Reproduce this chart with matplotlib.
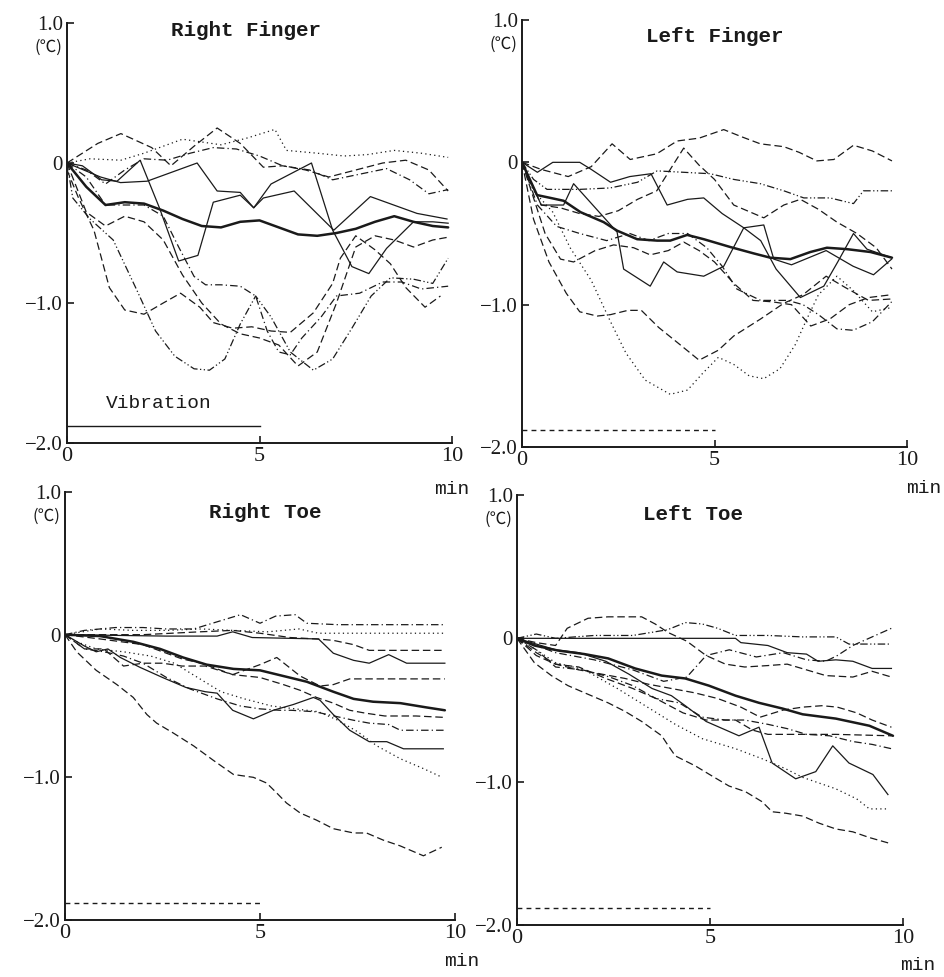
import matplotlib
matplotlib.use("Agg")
import matplotlib.pyplot as plt

# ---------------- DATA (minutes, °C change) ----------------
# Right Finger
rf_mean_x = [0, 0.5, 1.0, 1.5, 2.0, 2.5, 3.0, 3.5, 4.0, 4.5, 5.0, 5.5, 6.0, 6.5, 7.0, 7.5, 8.0, 8.5, 9.0, 9.5, 9.9]
rf_mean_y = [0, -0.17, -0.30, -0.28, -0.29, -0.34, -0.40, -0.45, -0.46, -0.42, -0.41, -0.46, -0.51, -0.52, -0.50, -0.47, -0.42, -0.38, -0.42, -0.45, -0.46]
rf_s1_x = [0, 0.4, 0.9, 1.3, 1.9, 2.4, 2.9, 3.4, 3.8, 4.5, 4.85, 5.3, 6.35, 6.9, 7.4, 7.84, 8.3, 9.0, 9.5, 9.9]
rf_s1_y = [0, -0.02, -0.12, -0.13, 0.02, -0.32, -0.70, -0.66, -0.28, -0.23, -0.32, -0.15, 0.0, -0.48, -0.74, -0.79, -0.61, -0.42, -0.42, -0.43]
rf_s2_x = [0, 0.87, 1.39, 2.08, 3.38, 3.9, 4.5, 4.85, 5.1, 5.9, 6.93, 7.88, 9.09, 9.87]
rf_s2_y = [0, -0.10, -0.14, -0.13, 0.0, -0.20, -0.21, -0.32, -0.25, -0.20, -0.48, -0.24, -0.36, -0.40]
rf_d1_x = [0, 0.8, 1.4, 2.2, 2.7, 3.3, 3.9, 4.5, 5.1, 5.6, 6.2, 6.8, 7.5, 8.2, 8.8, 9.4, 9.9]
rf_d1_y = [0, 0.14, 0.21, 0.11, -0.02, 0.12, 0.25, 0.14, -0.03, -0.02, -0.05, -0.10, -0.05, 0.0, 0.02, -0.05, -0.20]
rf_dot1_x = [0, 0.6, 1.4, 2.0, 2.5, 3.0, 3.5, 4.0, 4.7, 5.4, 5.7, 6.5, 7.2, 7.8, 8.5, 9.2, 9.9]
rf_dot1_y = [0, 0.03, 0.02, 0.07, 0.12, 0.17, 0.15, 0.13, 0.18, 0.24, 0.09, 0.07, 0.05, 0.06, 0.09, 0.07, 0.04]
rf_dd1_x = [0, 0.5, 1.0, 1.5, 2.0, 2.6, 3.2, 3.8, 4.4, 5.0, 5.6, 6.3, 6.9, 7.6, 8.3, 8.9, 9.4, 9.9]
rf_dd1_y = [0, -0.05, -0.15, -0.05, 0.03, 0.02, 0.07, 0.11, 0.10, 0.05, -0.02, -0.05, -0.12, -0.08, -0.04, -0.12, -0.22, -0.19]
rf_dot2_x = [0, 0.15, 0.6, 1.2, 1.8, 2.3, 2.8, 3.3, 3.7, 4.1, 4.5, 4.9, 5.3, 5.8, 6.4, 6.9, 7.4, 7.9, 8.4, 9.0, 9.5, 9.9]
rf_dot2_y = [0, -0.25, -0.40, -0.55, -0.90, -1.20, -1.38, -1.47, -1.48, -1.40, -1.15, -0.95, -1.10, -1.35, -1.48, -1.40, -1.18, -0.95, -0.82, -0.83, -0.86, -0.68]
rf_da2_x = [0, 0.3, 0.7, 1.1, 1.5, 2.0, 2.5, 2.95, 3.45, 3.8, 4.3, 4.8, 5.3, 5.8, 6.4, 6.9, 7.1, 7.5, 8.0, 8.4, 8.8, 9.3, 9.7]
rf_da2_y = [-0.05, -0.25, -0.48, -0.89, -1.05, -1.08, -1.00, -0.93, -1.03, -1.14, -1.18, -1.17, -1.20, -1.21, -1.07, -0.86, -0.68, -0.52, -0.62, -0.72, -0.89, -1.03, -0.95]
rf_da3_x = [0, 0.5, 1.0, 1.5, 2.0, 2.5, 2.9, 3.3, 3.6, 4.0, 4.5, 4.9, 5.2, 5.5, 5.8, 6.1, 6.6, 7.0, 7.6, 8.2, 8.7, 9.2, 9.9]
rf_da3_y = [0, -0.10, -0.30, -0.30, -0.30, -0.38, -0.60, -0.81, -0.87, -0.87, -0.88, -0.95, -1.20, -1.35, -1.37, -1.25, -1.10, -0.95, -0.93, -0.85, -0.85, -0.90, -0.88]
rf_dd2_x = [0, 0.5, 1.0, 1.5, 2.0, 2.5, 3.0, 3.5, 4.0, 4.5, 5.0, 5.5, 6.0, 6.5, 7.0, 7.5, 8.0, 8.5, 9.0, 9.5, 9.9]
rf_dd2_y = [0, -0.35, -0.45, -0.38, -0.42, -0.55, -0.80, -1.00, -1.15, -1.22, -1.25, -1.30, -1.45, -1.35, -1.00, -0.60, -0.52, -0.55, -0.60, -0.55, -0.53]

# Left Finger
lf_mean_x = [0, 0.39, 0.74, 1.08, 1.52, 2.12, 2.47, 2.99, 3.51, 3.85, 4.29, 4.72, 5.41, 6.02, 6.45, 6.97, 7.49, 7.92, 8.44, 9.05, 9.61]
lf_mean_y = [0, -0.23, -0.25, -0.27, -0.35, -0.42, -0.48, -0.54, -0.55, -0.55, -0.51, -0.54, -0.595, -0.64, -0.67, -0.68, -0.63, -0.60, -0.61, -0.63, -0.67]
lf_d1_x = [0, 0.5, 1.2, 1.8, 2.34, 2.81, 3.5, 4.03, 4.6, 5.24, 5.7, 6.19, 6.8, 7.2, 7.66, 8.1, 8.61, 9.1, 9.61]
lf_d1_y = [0, -0.05, -0.10, -0.03, 0.13, 0.02, 0.06, 0.15, 0.17, 0.23, 0.18, 0.13, 0.11, 0.07, 0.01, 0.02, 0.12, 0.08, 0.01]
lf_s1_x = [0, 0.4, 0.8, 1.5, 1.8, 2.3, 2.8, 3.35, 3.77, 4.3, 4.72, 5.2, 5.76, 6.2, 6.6, 7.23, 7.84, 8.2, 8.61, 8.96, 9.6]
lf_s1_y = [0, -0.07, 0.0, 0.0, -0.05, -0.14, -0.10, -0.08, -0.30, -0.26, -0.25, -0.36, -0.46, -0.55, -0.75, -0.95, -0.87, -0.70, -0.50, -0.61, -0.67]
lf_s2_x = [0, 0.5, 1.08, 1.34, 2.47, 2.64, 3.33, 3.68, 4.03, 4.72, 5.24, 5.76, 6.28, 6.54, 7.0, 7.9, 8.6, 9.13, 9.6]
lf_s2_y = [0, -0.30, -0.30, -0.15, -0.49, -0.75, -0.87, -0.70, -0.77, -0.80, -0.73, -0.46, -0.44, -0.68, -0.72, -0.62, -0.73, -0.79, -0.68]
lf_dot1_x = [0, 0.3, 0.65, 1.5, 2.29, 3.0, 3.51, 4.2, 4.89, 5.5, 6.19, 6.8, 7.32, 8.0, 8.61, 8.87, 9.2, 9.61]
lf_dot1_y = [0, -0.12, -0.19, -0.19, -0.18, -0.14, -0.06, -0.07, -0.08, -0.12, -0.15, -0.20, -0.25, -0.25, -0.29, -0.20, -0.20, -0.20]
lf_dot2_x = [0, 0.3, 0.8, 1.25, 1.8, 2.3, 2.7, 3.2, 3.85, 4.3, 4.7, 5.1, 5.5, 5.9, 6.28, 6.7, 7.1, 7.4, 7.7, 8.18, 8.6, 9.1, 9.6]
lf_dot2_y = [0, -0.20, -0.35, -0.60, -0.83, -1.12, -1.34, -1.53, -1.63, -1.60, -1.48, -1.37, -1.42, -1.50, -1.52, -1.45, -1.28, -1.10, -0.93, -0.80, -0.90, -1.05, -1.02]
lf_da1_x = [0, 0.3, 0.6, 1.0, 1.34, 1.9, 2.38, 2.9, 3.33, 3.8, 4.2, 4.6, 5.0, 5.5, 6.0, 6.5, 7.0, 7.5, 8.0, 8.5, 9.0, 9.6]
lf_da1_y = [0, -0.25, -0.50, -0.68, -0.70, -0.62, -0.58, -0.60, -0.65, -0.62, -0.56, -0.62, -0.70, -0.85, -0.97, -0.98, -1.00, -1.15, -1.10, -1.00, -0.95, -0.93]
lf_da2_x = [0, 0.3, 0.7, 1.15, 1.5, 1.95, 2.3, 2.75, 3.1, 3.55, 4.1, 4.6, 5.1, 5.5, 6.2, 6.8, 7.3, 7.9, 8.4, 9.0, 9.6]
lf_da2_y = [0, -0.40, -0.70, -0.92, -1.05, -1.08, -1.07, -1.04, -1.04, -1.16, -1.28, -1.39, -1.32, -1.22, -1.10, -0.99, -0.93, -0.80, -0.88, -0.97, -0.96]
lf_da3_x = [0, 0.5, 1.0, 1.5, 2.0, 2.5, 3.0, 3.5, 4.2, 4.6, 5.0, 5.5, 6.28, 6.8, 7.23, 7.7, 8.18, 8.7, 9.2, 9.61]
lf_da3_y = [0, -0.30, -0.32, -0.36, -0.38, -0.34, -0.26, -0.20, 0.10, -0.02, -0.12, -0.30, -0.39, -0.30, -0.26, -0.33, -0.42, -0.50, -0.60, -0.75]
lf_da4_x = [0, 0.4, 0.9, 1.5, 2.2, 2.8, 3.3, 3.8, 4.3, 4.8, 5.2, 5.58, 6.2, 6.9, 7.3, 7.7, 8.18, 8.6, 9.1, 9.6]
lf_da4_y = [0, -0.30, -0.45, -0.50, -0.55, -0.50, -0.55, -0.50, -0.50, -0.60, -0.73, -0.89, -0.97, -0.97, -1.00, -1.07, -1.17, -1.18, -1.12, -0.98]

# Right Toe
rt_mean_x = [0, 0.9, 1.75, 2.44, 3.03, 3.63, 4.32, 5.0, 5.6, 6.2, 6.88, 7.4, 7.9, 8.6, 9.27, 9.74]
rt_mean_y = [0, -0.01, -0.05, -0.10, -0.16, -0.21, -0.24, -0.25, -0.29, -0.33, -0.40, -0.45, -0.47, -0.48, -0.51, -0.53]
rt_t1_x = [0, 0.5, 1.3, 2.0, 2.6, 3.3, 3.9, 4.5, 5.0, 5.4, 5.9, 6.2, 7.0, 8.0, 9.0, 9.74]
rt_t1_y = [0, 0.03, 0.05, 0.05, 0.04, 0.04, 0.09, 0.14, 0.08, 0.13, 0.14, 0.08, 0.07, 0.07, 0.07, 0.07]
rt_t2_x = [0, 0.9, 1.75, 2.6, 3.5, 4.3, 5.2, 6.0, 6.5, 7.7, 9.74]
rt_t2_y = [0, 0.04, 0.03, 0.03, 0.04, 0.03, 0.02, 0.04, 0.01, 0.01, 0.01]
rt_t3_x = [0, 1.0, 2.0, 3.46, 4.3, 5.0, 5.77, 6.45, 6.88, 7.4, 7.8, 9.74]
rt_t3_y = [0, 0.0, 0.0, 0.02, 0.03, 0.01, -0.02, -0.03, -0.04, -0.07, -0.11, -0.11]
rt_t4_x = [0, 2.6, 3.9, 4.3, 4.8, 6.5, 6.88, 7.4, 7.8, 8.3, 8.76, 9.74]
rt_t4_y = [0, -0.01, -0.01, 0.02, -0.02, -0.03, -0.13, -0.18, -0.20, -0.14, -0.20, -0.20]
rt_t5_x = [0, 0.5, 1.0, 1.5, 2.0, 2.5, 3.0, 3.6, 4.3, 5.0, 5.43, 6.03, 6.54, 6.88, 7.3, 8.0, 9.0, 9.74]
rt_t5_y = [0, -0.10, -0.10, -0.22, -0.20, -0.20, -0.22, -0.22, -0.28, -0.21, -0.16, -0.29, -0.36, -0.35, -0.31, -0.31, -0.31, -0.31]
rt_t6_x = [0, 0.9, 2.0, 2.5, 3.0, 3.5, 4.3, 5.0, 5.6, 6.03, 6.45, 6.88, 7.3, 7.7, 8.2, 9.0, 9.74]
rt_t6_y = [0, -0.03, -0.07, -0.12, -0.17, -0.20, -0.28, -0.30, -0.35, -0.39, -0.44, -0.48, -0.53, -0.55, -0.57, -0.57, -0.58]
rt_t7_x = [0, 0.5, 1.0, 1.5, 2.0, 2.6, 3.2, 3.9, 4.5, 5.0, 5.5, 5.8, 6.4, 6.9, 7.4, 7.8, 8.3, 8.6, 9.74]
rt_t7_y = [0, -0.10, -0.12, -0.15, -0.20, -0.30, -0.38, -0.45, -0.50, -0.52, -0.53, -0.53, -0.54, -0.57, -0.60, -0.62, -0.63, -0.67, -0.67]
rt_t8_x = [0, 0.5, 0.8, 1.1, 1.42, 1.93, 2.5, 3.1, 3.6, 3.9, 4.3, 4.83, 5.34, 5.85, 6.37, 6.54, 6.88, 7.3, 7.8, 8.25, 8.68, 9.7]
rt_t8_y = [0, -0.08, -0.12, -0.10, -0.16, -0.23, -0.30, -0.37, -0.40, -0.41, -0.53, -0.59, -0.53, -0.49, -0.44, -0.46, -0.56, -0.67, -0.75, -0.75, -0.80, -0.80]
rt_t9_x = [0, 0.3, 0.8, 1.5, 2.2, 2.8, 3.4, 4.0, 4.6, 5.3, 5.9, 6.5, 7.0, 7.5, 8.0, 8.6, 9.2, 9.67]
rt_t9_y = [0, -0.05, -0.10, -0.12, -0.15, -0.20, -0.30, -0.40, -0.45, -0.50, -0.52, -0.54, -0.60, -0.68, -0.78, -0.87, -0.94, -1.00]
rt_t10_x = [0, 0.3, 0.8, 1.33, 1.75, 2.1, 2.35, 2.78, 3.3, 3.8, 4.32, 4.83, 5.17, 5.43, 5.68, 6.03, 6.45, 6.88, 7.4, 7.73, 8.16, 8.59, 9.19, 9.66]
rt_t10_y = [0, -0.12, -0.25, -0.35, -0.44, -0.56, -0.62, -0.69, -0.78, -0.88, -0.98, -1.00, -1.04, -1.11, -1.18, -1.25, -1.30, -1.36, -1.39, -1.39, -1.44, -1.48, -1.55, -1.49]

# Left Toe
lt_mean_x = [0, 0.45, 1.06, 1.75, 2.36, 3.06, 3.75, 4.36, 4.97, 5.66, 6.27, 6.88, 7.4, 8.26, 9.13, 9.74]
lt_mean_y = [0, -0.05, -0.085, -0.11, -0.14, -0.21, -0.26, -0.28, -0.33, -0.40, -0.45, -0.49, -0.53, -0.56, -0.61, -0.68]
lt_t1_x = [0, 1, 2, 3, 4, 5, 5.66, 5.8, 6.5, 7.0, 7.5, 7.8, 8.26, 8.7, 9.2, 9.7]
lt_t1_y = [0, 0.0, 0.0, 0.0, 0.0, 0.0, 0.0, -0.03, -0.05, -0.10, -0.11, -0.16, -0.15, -0.16, -0.21, -0.21]
lt_t2_x = [0, 0.5, 1.0, 1.3, 1.84, 2.36, 3.23, 3.58, 3.92, 4.4, 4.9, 5.4, 5.9, 6.5, 7.0, 7.5, 8.0, 8.7, 9.2, 9.7]
lt_t2_y = [0, -0.03, -0.05, 0.07, 0.14, 0.15, 0.15, 0.10, 0.04, -0.02, -0.12, -0.18, -0.20, -0.19, -0.18, -0.22, -0.26, -0.27, -0.23, -0.27]
lt_t3_x = [0, 0.5, 1.0, 2.0, 3.0, 3.9, 4.36, 4.8, 5.2, 5.66, 6.5, 7.4, 8.26, 8.6, 9.7]
lt_t3_y = [0, 0.03, 0.0, 0.02, 0.02, 0.06, 0.11, 0.10, 0.07, 0.02, 0.02, 0.01, 0.01, -0.04, -0.04]
lt_t4_x = [0, 0.5, 1.0, 2.0, 3.0, 3.8, 4.4, 4.9, 5.5, 6.2, 6.9, 7.5, 8.0, 8.3, 8.7, 9.2, 9.7]
lt_t4_y = [0, -0.05, -0.10, -0.15, -0.22, -0.30, -0.27, -0.12, -0.08, -0.13, -0.10, -0.15, -0.16, -0.12, -0.05, 0.01, 0.07]
lt_t5_x = [0, 0.5, 1.0, 1.6, 2.2, 2.8, 3.4, 4.0, 4.6, 5.2, 5.8, 6.3, 6.9, 7.4, 7.9, 8.3, 8.8, 9.2, 9.7]
lt_t5_y = [0, -0.10, -0.18, -0.22, -0.25, -0.28, -0.32, -0.35, -0.38, -0.42, -0.48, -0.55, -0.50, -0.48, -0.47, -0.48, -0.52, -0.57, -0.62]
lt_t6_x = [0, 0.5, 1.0, 1.6, 2.3, 3.0, 3.6, 4.3, 4.9, 5.66, 6.1, 6.5, 7.4, 8.26, 9.7]
lt_t6_y = [0, -0.12, -0.18, -0.20, -0.28, -0.35, -0.42, -0.52, -0.57, -0.57, -0.64, -0.67, -0.67, -0.67, -0.68]
lt_t7_x = [0, 0.5, 1.0, 1.6, 2.3, 2.9, 3.5, 4.0, 4.36, 4.9, 5.75, 6.27, 6.61, 7.22, 7.74, 8.18, 8.6, 9.22, 9.61]
lt_t7_y = [0, -0.04, -0.08, -0.10, -0.16, -0.25, -0.35, -0.40, -0.47, -0.58, -0.68, -0.62, -0.87, -0.98, -0.93, -0.75, -0.87, -0.95, -1.09]
lt_t8_x = [0, 0.5, 1.0, 1.75, 2.6, 3.5, 4.1, 4.8, 5.66, 6.35, 6.96, 7.4, 8.26, 8.8, 9.13, 9.57]
lt_t8_y = [0, -0.08, -0.17, -0.22, -0.35, -0.50, -0.60, -0.70, -0.77, -0.84, -0.91, -0.97, -1.05, -1.12, -1.19, -1.19]
lt_t9_x = [0, 0.45, 0.89, 1.32, 1.75, 2.36, 2.8, 3.23, 3.75, 3.92, 4.1, 4.62, 5.05, 5.49, 5.92, 6.35, 6.61, 6.96, 7.4, 7.83, 8.26, 8.7, 9.13, 9.65]
lt_t9_y = [0, -0.17, -0.26, -0.33, -0.38, -0.45, -0.51, -0.58, -0.68, -0.75, -0.82, -0.89, -0.96, -1.03, -1.07, -1.14, -1.21, -1.22, -1.24, -1.29, -1.33, -1.35, -1.39, -1.43]
lt_t10_x = [0, 0.5, 1.0, 1.7, 2.4, 3.0, 3.6, 4.2, 4.8, 5.4, 5.9, 6.5, 7.0, 7.5, 8.1, 8.7, 9.2, 9.7]
lt_t10_y = [0, -0.08, -0.20, -0.22, -0.27, -0.33, -0.42, -0.45, -0.55, -0.57, -0.57, -0.60, -0.63, -0.67, -0.68, -0.72, -0.74, -0.77]

# Vibration period bar (min) and its level (°C)
vib_x = [0, 5]
vib_level = -1.88

panel_titles = ["Right Finger", "Left Finger", "Right Toe", "Left Toe"]
y_ticks = [1.0, 0, -1.0, -2.0]
y_tick_labels = ["1.0", "0", "\u22121.0", "\u22122.0"]
x_ticks = [0, 5, 10]
x_tick_labels = ["0", "5", "10"]

# ---------------- STYLES ----------------
SOLID = "-"
DASH = (0, (6, 3))
DOT = (0, (1, 2.6))
DASHDOT = (0, (6, 2.5, 1, 2.5))
DASHDOTDOT = (0, (6, 2, 1, 2, 1, 2))
SHORTDASH = (0, (3.5, 3))
INK = "#1a1a1a"

panels = [
    dict(traces=[(rf_s1_x, rf_s1_y, SOLID), (rf_s2_x, rf_s2_y, SOLID), (rf_d1_x, rf_d1_y, DASH),
                 (rf_dot1_x, rf_dot1_y, DOT), (rf_dd1_x, rf_dd1_y, DASHDOT), (rf_dot2_x, rf_dot2_y, DASHDOTDOT),
                 (rf_da2_x, rf_da2_y, DASH), (rf_da3_x, rf_da3_y, DASHDOT), (rf_dd2_x, rf_dd2_y, DASH)],
         mean=(rf_mean_x, rf_mean_y), vib_style=SOLID,
         rect=(67, 452, 23, 443), min_pos=(452, 490), title_pos=(246, 30)),
    dict(traces=[(lf_d1_x, lf_d1_y, DASH), (lf_s1_x, lf_s1_y, SOLID), (lf_s2_x, lf_s2_y, SOLID),
                 (lf_dot1_x, lf_dot1_y, DASHDOTDOT), (lf_dot2_x, lf_dot2_y, DOT), (lf_da1_x, lf_da1_y, DASH),
                 (lf_da2_x, lf_da2_y, DASH), (lf_da3_x, lf_da3_y, DASH), (lf_da4_x, lf_da4_y, DASHDOT)],
         mean=(lf_mean_x, lf_mean_y), vib_style=SHORTDASH,
         rect=(522, 907, 20, 447), min_pos=(924, 488), title_pos=(715, 36)),
    dict(traces=[(rt_t1_x, rt_t1_y, DASHDOT), (rt_t2_x, rt_t2_y, DOT), (rt_t3_x, rt_t3_y, DASH),
                 (rt_t4_x, rt_t4_y, SOLID), (rt_t5_x, rt_t5_y, DASH), (rt_t6_x, rt_t6_y, DASH),
                 (rt_t7_x, rt_t7_y, DASHDOT), (rt_t8_x, rt_t8_y, SOLID), (rt_t9_x, rt_t9_y, DOT),
                 (rt_t10_x, rt_t10_y, DASH)],
         mean=(rt_mean_x, rt_mean_y), vib_style=SHORTDASH,
         rect=(65, 455, 492, 920), min_pos=(462, 962), title_pos=(265, 512)),
    dict(traces=[(lt_t1_x, lt_t1_y, SOLID), (lt_t2_x, lt_t2_y, DASH), (lt_t3_x, lt_t3_y, DASHDOTDOT),
                 (lt_t4_x, lt_t4_y, DASHDOT), (lt_t5_x, lt_t5_y, DASH), (lt_t6_x, lt_t6_y, DASH),
                 (lt_t7_x, lt_t7_y, SOLID), (lt_t8_x, lt_t8_y, DOT), (lt_t9_x, lt_t9_y, DASH),
                 (lt_t10_x, lt_t10_y, DASHDOT)],
         mean=(lt_mean_x, lt_mean_y), vib_style=SHORTDASH,
         rect=(517, 903, 495, 925), min_pos=(918, 966), title_pos=(693, 515)),
]

W, H = 945, 977
fig = plt.figure(figsize=(W / 100, H / 100), dpi=100)
fig.patch.set_facecolor("white")

SERIF = ["Liberation Serif", "DejaVu Serif"]
MONO = ["Liberation Mono", "DejaVu Sans Mono"]

for i, p in enumerate(panels):
    l, r, t, b = p["rect"]
    ax = fig.add_axes([l / W, 1 - b / H, (r - l) / W, (b - t) / H])
    for xs, ys, ls in p["traces"]:
        ax.plot(xs, ys, color=INK, lw=0.9, linestyle=ls)
    mx, my = p["mean"]
    ax.plot(mx, my, color=INK, lw=1.8, solid_capstyle="round")
    ax.plot(vib_x, [vib_level, vib_level], color=INK, lw=1.0, linestyle=p["vib_style"])
    if i == 0:
        ax.text(1.0, -1.72, "Vibration", fontsize=14, family=MONO, color=INK, va="center", ha="left")

    ax.set_xlim(0, 10)
    ax.set_ylim(-2.0, 1.0)
    for s in ("top", "right"):
        ax.spines[s].set_visible(False)
    for s in ("left", "bottom"):
        ax.spines[s].set_linewidth(1.4)
        ax.spines[s].set_color(INK)
    ax.set_xticks(x_ticks)
    ax.set_xticklabels(x_tick_labels, family=SERIF, fontsize=16)
    ax.set_yticks(y_ticks)
    ax.set_yticklabels(y_tick_labels, family=SERIF, fontsize=15)
    ax.tick_params(axis="both", direction="in", length=5, width=1.2, colors=INK, pad=3)
    ax.tick_params(axis="y", pad=3)
    tx, ty = p["title_pos"]
    fig.text(tx / W, 1 - ty / H, panel_titles[i], family=MONO, fontweight="bold", fontsize=15,
             ha="center", va="center", color=INK)
    ax.text(-0.012, 0.943, "(\u2103)", transform=ax.transAxes, ha="right", va="center",
            fontsize=12, family=["Noto Sans CJK JP", "DejaVu Sans"], color=INK)
    fig.text(p["min_pos"][0] / W, 1 - p["min_pos"][1] / H, "min", family=MONO, fontsize=14,
             ha="center", va="center", color=INK)

fig.savefig("out.png", dpi=100, facecolor="white")
